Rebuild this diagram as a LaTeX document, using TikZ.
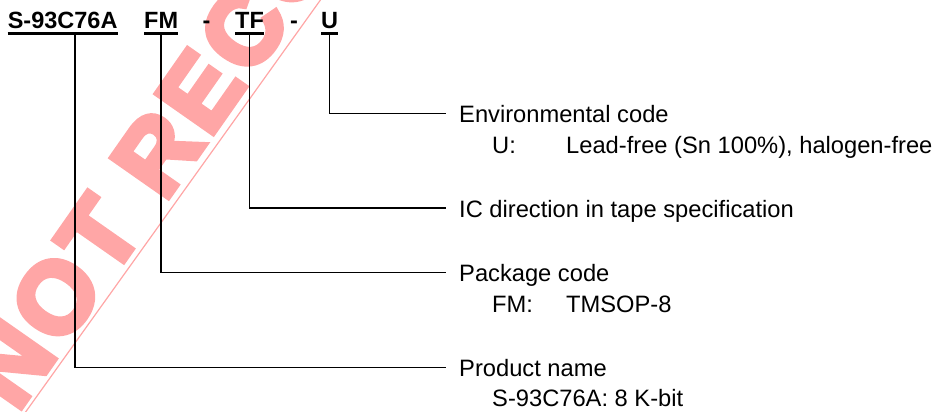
\documentclass[tikz,border=0pt]{standalone}
\usepackage{fontspec}
\setmainfont{Liberation Sans}
\newfontfamily\wmfont{Liberation Sans}[UprightFont={* Bold}, FakeBold=6, LetterSpace=6]
\definecolor{wmpink}{RGB}{255,166,166}
\begin{document}
\begin{tikzpicture}[x=1pt,y=-1pt,
  hdr/.style={font=\fontsize{23.5}{28}\selectfont\bfseries, inner sep=0pt, anchor=base west},
  lbl/.style={font=\fontsize{23.7}{28}\selectfont, inner xsep=13pt, inner ysep=0pt, text height=18pt, text depth=0pt, anchor=base west},
  sub/.style={font=\fontsize{23.7}{28}\selectfont, inner sep=0pt, anchor=base west},
  uline/.style={line width=2.6pt},
  conn/.style={line width=1.6pt},
  wm/.style={wmpink}]
\useasboundingbox (0,0) rectangle (943,412);
\clip (0,0) rectangle (943,412);
% watermark (behind)
\node[wm, rotate=55, anchor=base west, inner sep=0pt, font=\fontsize{100}{115}\selectfont\wmfont] (wmtext) at (17,413) {NOT RECOMMENDED};
\draw[wm, line width=1.2pt] (19.9,420) -- (324,-5);
% header
\node[hdr] (S) at (7.6,28.3) {S-93C76A};
\node[hdr] (FM) at (144,28.3) {FM};
\node[hdr] (d1) at (202.5,28.3) {-};
\node[hdr] (TF) at (235,28.3) {TF};
\node[hdr] (d2) at (290,28.3) {-};
\node[hdr] (U) at (321,28.3) {U};
\foreach \n in {S,FM,TF,U}
  \draw[uline] ([yshift=-5.2pt]\n.base west) -- ([yshift=-5.2pt]\n.base east);
% labels
\node[lbl] (env) at (446,122.3) {Environmental code};
\node[sub] (envk) at (492,153.3) {U:};
\node[sub] (envv) at (566,153.3) {Lead-free (Sn 100\%), halogen-free};
\node[lbl] (ic) at (446,217) {IC direction in tape specification};
\node[lbl] (pkg) at (446,281.5) {Package code};
\node[sub] (pkgk) at (492,312.5) {FM:};
\node[sub] (pkgv) at (566,312.5) {TMSOP-8};
\node[lbl] (prod) at (446,376.5) {Product name};
\node[sub] (prodv) at (492,406.7) {S-93C76A: 8 K-bit};
% connectors
\draw[conn] ([yshift=-5.2pt]U.base) |- (env.west);
\draw[conn] ([yshift=-5.2pt]TF.base) |- (ic.west);
\draw[conn] ([yshift=-5.2pt]FM.base) |- (pkg.west);
\draw[conn] ([xshift=67.4pt,yshift=-5.2pt]S.base west) |- (prod.west);
\end{tikzpicture}
\end{document}
